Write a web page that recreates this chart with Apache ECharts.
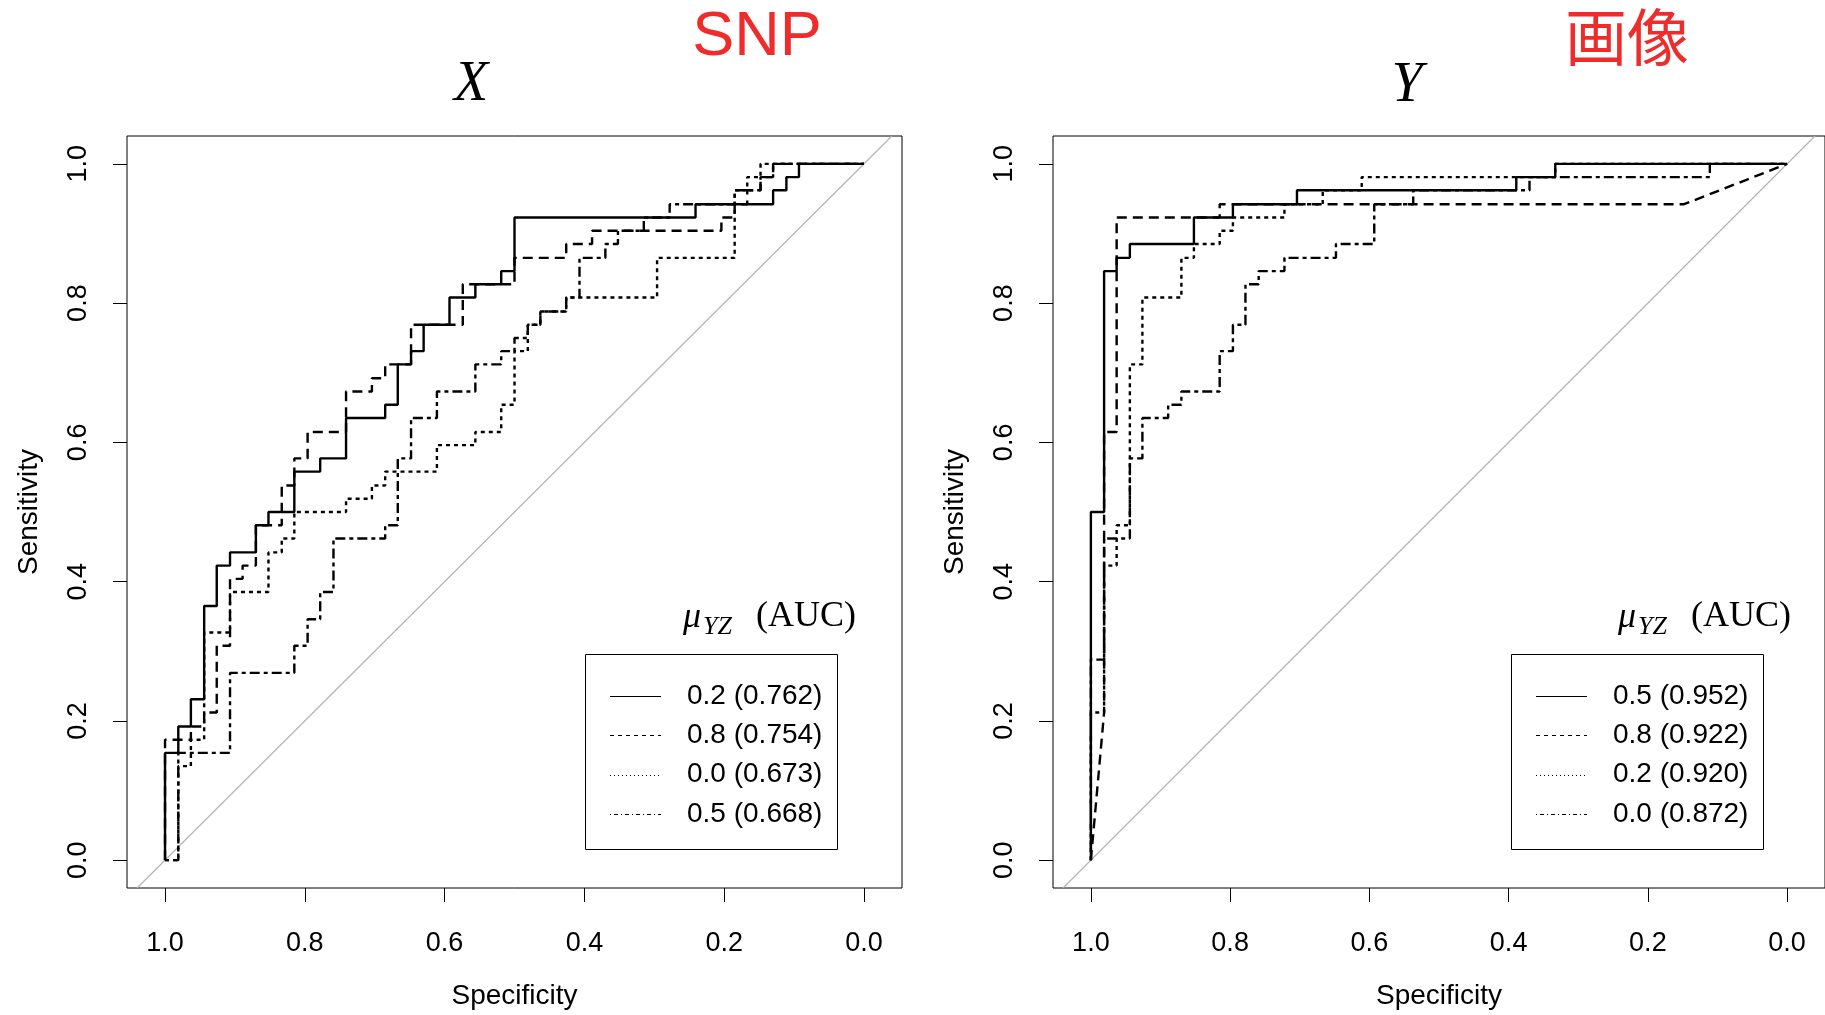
<!DOCTYPE html>
<html>
<head>
<meta charset="utf-8">
<title>ROC</title>
<script src="https://cdn.jsdelivr.net/npm/echarts@6/dist/echarts.min.js"></script>
<style>
  html, body { margin: 0; padding: 0; background: #fff; }
  #main { width: 1825px; height: 1015px; }
</style>
</head>
<body>
<div id="main"></div>
<script>
// tick values for both axes
const tickValues = [0, 0.2, 0.4, 0.6, 0.8, 1.0];
// chance diagonal (sens = 1 - spec), stretched to the box edges
const chance = [[1.04, -0.04], [-0.04, 1.04]];

// panel X : [specificity, sensitivity]
const rocX_02 = [[1,0],[1,.154],[.981,.154],[.981,.192],[.963,.192],[.963,.231],[.944,.231],[.944,.365],[.926,.365],[.926,.423],[.907,.423],[.907,.442],[.870,.442],[.870,.481],[.852,.481],[.852,.5],[.815,.5],[.815,.558],[.778,.558],[.778,.577],[.741,.577],[.741,.635],[.685,.635],[.685,.654],[.667,.654],[.667,.712],[.648,.712],[.648,.731],[.630,.731],[.630,.769],[.593,.769],[.593,.808],[.556,.808],[.556,.827],[.519,.827],[.519,.846],[.5,.846],[.5,.923],[.241,.923],[.241,.942],[.130,.942],[.130,.962],[.111,.962],[.111,.981],[.093,.981],[.093,1],[0,1]];
const rocX_08 = [[1,0],[1,.173],[.963,.173],[.963,.192],[.944,.192],[.944,.212],[.926,.212],[.926,.308],[.907,.308],[.907,.404],[.889,.404],[.889,.423],[.870,.423],[.870,.481],[.833,.481],[.833,.538],[.815,.538],[.815,.577],[.796,.577],[.796,.615],[.741,.615],[.741,.673],[.704,.673],[.704,.692],[.685,.692],[.685,.712],[.648,.712],[.648,.769],[.574,.769],[.574,.827],[.5,.827],[.5,.865],[.426,.865],[.426,.885],[.389,.885],[.389,.904],[.204,.904],[.204,.923],[.185,.923],[.185,.942],[.167,.942],[.167,.962],[.148,.962],[.148,.981],[.130,.981],[.130,1],[0,1]];
const rocX_00 = [[1,0],[.981,0],[.981,.135],[.963,.135],[.963,.173],[.944,.173],[.944,.327],[.907,.327],[.907,.385],[.852,.385],[.852,.442],[.833,.442],[.833,.462],[.815,.462],[.815,.5],[.741,.5],[.741,.519],[.704,.519],[.704,.538],[.685,.538],[.685,.558],[.611,.558],[.611,.596],[.556,.596],[.556,.615],[.519,.615],[.519,.654],[.5,.654],[.5,.731],[.481,.731],[.481,.769],[.463,.769],[.463,.788],[.426,.788],[.426,.808],[.296,.808],[.296,.865],[.185,.865],[.185,.962],[.167,.962],[.167,.981],[.148,.981],[.148,1],[0,1]];
const rocX_05 = [[1,0],[.981,0],[.981,.154],[.907,.154],[.907,.269],[.815,.269],[.815,.308],[.796,.308],[.796,.346],[.778,.346],[.778,.385],[.759,.385],[.759,.462],[.685,.462],[.685,.481],[.667,.481],[.667,.577],[.648,.577],[.648,.635],[.611,.635],[.611,.673],[.556,.673],[.556,.712],[.519,.712],[.519,.731],[.5,.731],[.5,.75],[.481,.75],[.481,.769],[.463,.769],[.463,.788],[.426,.788],[.426,.808],[.407,.808],[.407,.865],[.370,.865],[.370,.885],[.352,.885],[.352,.904],[.315,.904],[.315,.923],[.278,.923],[.278,.942],[.185,.942],[.185,.962],[.148,.962],[.148,.981],[.130,.981],[.130,1],[0,1]];
const legendX = ['0.2 (0.762)', '0.8 (0.754)', '0.0 (0.673)', '0.5 (0.668)'];

// panel Y : [specificity, sensitivity]
const rocY_05 = [[1,0],[1,.5],[.981,.5],[.981,.846],[.963,.846],[.963,.865],[.944,.865],[.944,.885],[.852,.885],[.852,.923],[.796,.923],[.796,.942],[.704,.942],[.704,.962],[.389,.962],[.389,.981],[.333,.981],[.333,1],[0,1]];
const rocY_08 = [[1,0],[.981,.212],[.981,.615],[.963,.615],[.963,.923],[.815,.923],[.815,.942],[.148,.942],[0,1]];
const rocY_02 = [[1,0],[1,.212],[.981,.212],[.981,.423],[.963,.423],[.963,.481],[.944,.481],[.944,.712],[.926,.712],[.926,.808],[.870,.808],[.870,.865],[.852,.865],[.852,.885],[.815,.885],[.815,.904],[.796,.904],[.796,.923],[.722,.923],[.722,.942],[.667,.942],[.667,.962],[.611,.962],[.611,.981],[.333,.981],[.333,1],[0,1]];
const rocY_00 = [[1,0],[1,.288],[.981,.288],[.981,.462],[.944,.462],[.944,.577],[.926,.577],[.926,.635],[.889,.635],[.889,.654],[.870,.654],[.870,.673],[.815,.673],[.815,.731],[.796,.731],[.796,.769],[.778,.769],[.778,.827],[.759,.827],[.759,.846],[.722,.846],[.722,.865],[.648,.865],[.648,.885],[.593,.885],[.593,.942],[.537,.942],[.537,.962],[.370,.962],[.370,.981],[.111,.981],[.111,1],[0,1]];
const legendY = ['0.5 (0.952)', '0.8 (0.922)', '0.2 (0.920)', '0.0 (0.872)'];

// R lty 1..4 (solid, dashed, dotted, dotdash)
const curveDash = ['solid', [10, 6], [4, 4], [4, 4, 10, 4]];
const legendDash = [null, [4, 4], [1, 3], [1, 3, 4, 3]];

const sans = '"Liberation Sans", Arial, sans-serif';
const serif = '"Liberation Serif", "Times New Roman", serif';
const gridLeft = [127, 1053];
const panelShift = 926;
const titleShift = 935;

const chart = echarts.init(document.getElementById('main'), null, { renderer: 'canvas' });

function xAxisFor(i) {
    return {
        type: 'value', gridIndex: i, inverse: true, min: -0.0544, max: 1.0544,
        axisLine: { show: false, onZero: false },
        splitLine: { show: false },
        axisTick: { show: true, customValues: tickValues, length: 14, lineStyle: { color: '#000', width: 1 } },
        axisLabel: { customValues: tickValues, formatter: v => v.toFixed(1), margin: 42,
            fontSize: 27, color: '#000', fontFamily: sans },
        name: 'Specificity', nameLocation: 'middle', nameGap: 94,
        nameTextStyle: { fontSize: 28, color: '#000', fontFamily: sans }
    };
}
function yAxisFor(i) {
    return {
        type: 'value', gridIndex: i, min: -0.04, max: 1.04,
        axisLine: { show: false, onZero: false },
        splitLine: { show: false },
        axisTick: { show: true, customValues: tickValues, length: 14, lineStyle: { color: '#000', width: 1 } },
        axisLabel: { customValues: tickValues, formatter: v => v.toFixed(1), margin: 35, rotate: 90,
            fontSize: 27, color: '#000', fontFamily: sans },
        name: 'Sensitivity', nameLocation: 'middle', nameGap: 84, nameRotate: 90,
        nameTextStyle: { fontSize: 28, color: '#000', fontFamily: sans }
    };
}
function curve(i, data, k) {
    return {
        type: 'line', xAxisIndex: i, yAxisIndex: i, data: data,
        symbol: 'none', silent: true, animation: false,
        lineStyle: { color: '#000', width: 2.4, type: curveDash[k] }
    };
}

const series = [];
[[rocX_02, rocX_08, rocX_00, rocX_05], [rocY_05, rocY_08, rocY_02, rocY_00]].forEach((set, i) => {
    series.push({
        type: 'line', xAxisIndex: i, yAxisIndex: i, data: chance, symbol: 'none',
        silent: true, animation: false, lineStyle: { color: '#b4b4b4', width: 1.2 }
    });
    set.forEach((d, k) => series.push(curve(i, d, k)));
});

// titles, legend boxes
const graphics = [
    { type: 'text', x: 471, y: 85, style: { text: 'X', font: 'italic 56px ' + serif, fill: '#000', align: 'center', verticalAlign: 'middle' } },
    { type: 'text', x: 1407, y: 86, style: { text: 'Y', font: 'italic 56px ' + serif, fill: '#000', align: 'center', verticalAlign: 'middle' } },
    { type: 'text', x: 757, y: 38, style: { text: 'SNP', font: '63px ' + sans, fill: '#ee2c2c', align: 'center', verticalAlign: 'middle' } },
    { type: 'text', x: 1627, y: 37, style: { text: '画像', font: '62px "Noto Sans CJK JP", sans-serif', fill: '#ee2c2c', align: 'center', verticalAlign: 'middle' } }
];
[legendX, legendY].forEach((labels, p) => {
    const dx = p * panelShift;
    const tx = p * titleShift;
    graphics.push(
        { type: 'text', x: 683 + tx, y: 618, style: { text: 'μ', font: 'italic 36px ' + serif, fill: '#000', align: 'left', verticalAlign: 'middle' } },
        { type: 'text', x: 703 + tx, y: 627, style: { text: 'YZ', font: 'italic 26px ' + serif, fill: '#000', align: 'left', verticalAlign: 'middle' } },
        { type: 'text', x: 856 + tx, y: 617, style: { text: '(AUC)', font: '36px ' + serif, fill: '#000', align: 'right', verticalAlign: 'middle' } },
        { type: 'rect', shape: { x: 585.5 + dx, y: 654.5, width: 252, height: 195 }, style: { fill: '#fff', stroke: '#000', lineWidth: 1 } }
    );
    labels.forEach((t, k) => {
        const y = 696 + k * 39.3;
        graphics.push(
            { type: 'line', shape: { x1: 610 + dx, y1: Math.round(y) + 0.5, x2: 661 + dx, y2: Math.round(y) + 0.5 }, style: { stroke: '#000', lineWidth: 1, lineDash: legendDash[k] }, z: 101 },
            { type: 'text', x: 687 + dx, y: y, style: { text: t, font: '28px ' + sans, fill: '#000', align: 'left', verticalAlign: 'middle' }, z: 101 }
        );
    });
});

chart.setOption({
    animation: false,
    backgroundColor: '#fff',
    grid: gridLeft.map(l => ({ left: l, top: 136, width: 775, height: 755, show: true, borderColor: '#000', borderWidth: 1 })),
    xAxis: [xAxisFor(0), xAxisFor(1)],
    yAxis: [yAxisFor(0), yAxisFor(1)],
    series: series,
    graphic: { elements: graphics }
});
</script>
</body>
</html>
